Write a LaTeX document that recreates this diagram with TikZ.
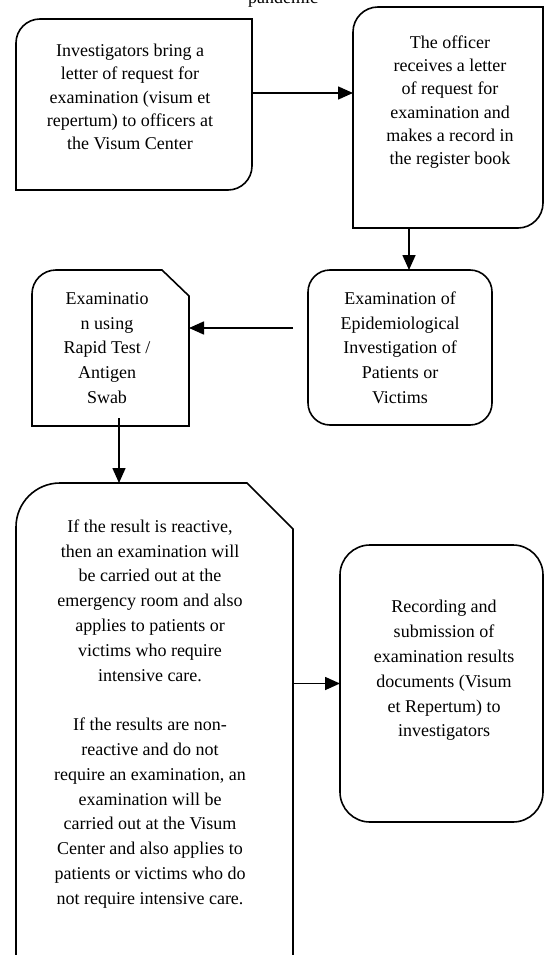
\documentclass[tikz,border=0pt]{standalone}
\usepackage{fontspec}
\setmainfont{Liberation Serif}
\usetikzlibrary{arrows.meta}
\begin{document}
\begin{tikzpicture}[x=1pt,y=-1pt,
  outline/.style={draw=black, line width=1.6pt, line join=miter},
  geom/.style={draw=none, inner sep=0pt, outer sep=0pt, rectangle},
  txt/.style={align=center, inner sep=0pt, font=\fontsize{18}{24.8}\selectfont},
  txtb/.style={align=center, inner sep=0pt, font=\fontsize{18}{23.3}\selectfont},
  arr/.style={line width=1.6pt, -{Triangle[length=15pt,width=13pt]}}]
\useasboundingbox (0,0) rectangle (545,955);
\fill[white] (0,0) rectangle (545,955);

% geometry nodes
\node[geom, minimum width=236pt, minimum height=171pt] (b1) at (134,104.5) {};
\node[geom, minimum width=190pt, minimum height=221pt] (b2) at (448,117.5) {};
\node[geom, minimum width=184pt, minimum height=155pt] (b3) at (400,347.5) {};
\node[geom, minimum width=157pt, minimum height=156pt] (b4) at (110.5,348) {};
\node[geom, minimum width=277pt, minimum height=472pt] (b5) at (154.5,719) {};
\node[geom, minimum width=203pt, minimum height=277pt] (b6) at (441.5,683.5) {};

% outlines
\draw[outline] (16,190) -- (16,43) arc[start angle=180,end angle=270,radius=24] -- (252,19) -- (252,166) arc[start angle=0,end angle=90,radius=24] -- cycle;
\draw[outline] (353,228) -- (353,32) arc[start angle=180,end angle=270,radius=25] -- (543,7) -- (543,203) arc[start angle=0,end angle=90,radius=25] -- cycle;
\draw[outline, rounded corners=22pt] (308,270) rectangle (492,425);
\draw[outline] (32,426) -- (32,294) arc[start angle=180,end angle=270,radius=24] -- (162,270) -- (189,296) -- (189,426) -- cycle;
\draw[outline] (16,962) -- (16,527) arc[start angle=180,end angle=270,radius=44] -- (247,483) -- (293,529) -- (293,962);
\draw[outline, rounded corners=30pt] (340,545) rectangle (543,822);

% title fragment
\node[font=\fontsize{18}{22}\selectfont, anchor=base, inner sep=0pt] (title) at (283,4) {pandemic};

% texts
\node[txtb] (t1) at (130,98.5) {\strut Investigators bring a\\letter of request for\\examination (visum et\\repertum) to officers at\\the Visum Center\strut};
\node[txtb] (t2) at (450,101.7) {\strut The officer\\receives a letter\\of request for\\examination and\\makes a record in\\the register book\strut};
\node[txt] (t3) at (400,349) {\strut Examination of\\Epidemiological\\Investigation of\\Patients or\\Victims\strut};
\node[txt] (t4) at (107,349) {\strut Examinatio\\n using\\Rapid Test /\\Antigen\\Swab\strut};
\node[txt] (t5) at (150,713.3) {\strut If the result is reactive,\\then an examination will\\be carried out at the\\emergency room and also\\applies to patients or\\victims who require\\intensive care.\\[24.8pt]If the results are non-\\reactive and do not\\require an examination, an\\examination will be\\carried out at the Visum\\Center and also applies to\\patients or victims who do\\not require intensive care.\strut};
\node[txt] (t6) at (444,670) {\strut Recording and\\submission of\\examination results\\documents (Visum\\et Repertum) to\\investigators\strut};

% connectors
\coordinate (a3s) at (293,328);
\coordinate (a4s) at (119,418);
\draw[arr] (b1.east |- 0,93) -- (b2.west |- 0,93);
\draw[arr] (409,0 |- b2.south) -- (409,0 |- b3.north);
\draw[arr] (a3s) -- (b4.east |- a3s);
\draw[arr] (a4s) -- (a4s |- b5.north);
\draw[arr] (b5.east |- b6.west) -- (b6.west);
\end{tikzpicture}
\end{document}
